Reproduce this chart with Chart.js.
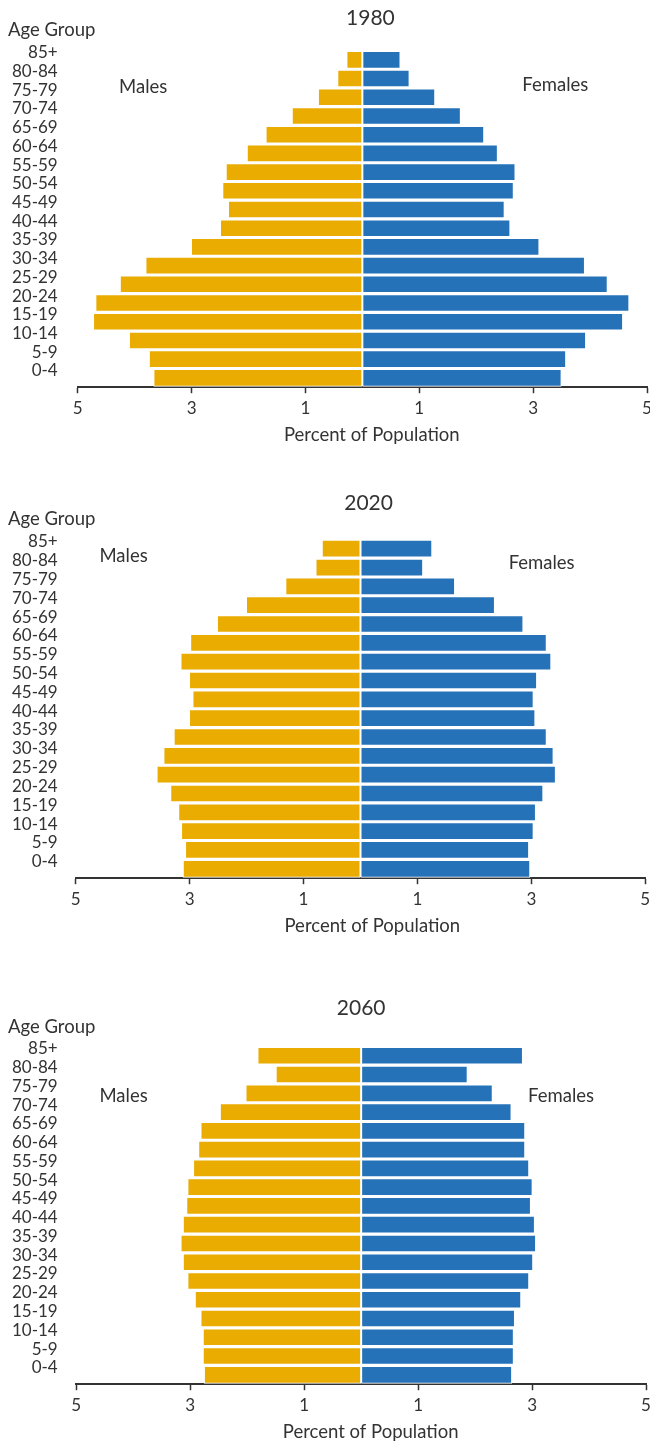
<!DOCTYPE html>
<html>
<head>
<meta charset="utf-8">
<title>Population pyramids 1980, 2020, 2060</title>
<script src="https://cdn.jsdelivr.net/npm/chart.js@4.4.1/dist/chart.umd.min.js"></script>
<style>
  html, body { margin: 0; padding: 0; background: #fff; overflow: hidden; }
  .box { position: absolute; left: 0; width: 650px; }
</style>
</head>
<body>
<div class="box" style="top:0px;height:448px"><canvas id="pyr1980"></canvas></div>
<div class="box" style="top:475px;height:464px"><canvas id="pyr2020"></canvas></div>
<div class="box" style="top:978px;height:467px"><canvas id="pyr2060"></canvas></div>

<script>
// age groups, top of the pyramid first
var ageGroups = ['85+', '80-84', '75-79', '70-74', '65-69', '60-64', '55-59', '50-54', '45-49',
                 '40-44', '35-39', '30-34', '25-29', '20-24', '15-19', '10-14', '5-9', '0-4'];
var xTicks = [-5, -3, -1, 1, 3, 5];

// percent of population
var males1980   = [0.28, 0.44, 0.78, 1.24, 1.70, 2.03, 2.40, 2.46, 2.36, 2.50, 3.01, 3.81, 4.26, 4.69, 4.73, 4.10, 3.75, 3.67];
var females1980 = [0.67, 0.83, 1.28, 1.73, 2.14, 2.38, 2.69, 2.66, 2.50, 2.60, 3.11, 3.91, 4.31, 4.69, 4.58, 3.93, 3.58, 3.50];
var males2020   = [0.68, 0.79, 1.32, 2.01, 2.52, 2.99, 3.16, 3.01, 2.95, 3.01, 3.28, 3.46, 3.58, 3.34, 3.20, 3.15, 3.08, 3.12];
var females2020 = [1.26, 1.10, 1.66, 2.36, 2.86, 3.27, 3.35, 3.10, 3.04, 3.07, 3.27, 3.39, 3.43, 3.21, 3.08, 3.04, 2.96, 2.98];
var males2060   = [1.82, 1.50, 2.03, 2.48, 2.82, 2.86, 2.95, 3.05, 3.07, 3.13, 3.17, 3.13, 3.05, 2.92, 2.82, 2.78, 2.78, 2.76];
var females2060 = [2.84, 1.87, 2.31, 2.64, 2.88, 2.88, 2.95, 3.01, 2.98, 3.05, 3.07, 3.02, 2.95, 2.81, 2.70, 2.68, 2.68, 2.65];

var maleColor = '#EAAC00';
var femaleColor = '#2672B8';
var textColor = '#333';
var wordSize = 18.5;

Chart.defaults.font.family = 'Lato, sans-serif';
Chart.defaults.font.size = 17;
Chart.defaults.color = textColor;

// "Males" / "Females" written inside the plot
function sideLabels(items) {
  return {
    id: 'sideLabels',
    afterDatasetsDraw: function (chart) {
      var ctx = chart.ctx;
      ctx.save();
      ctx.font = wordSize + 'px Lato, sans-serif';
      ctx.fillStyle = textColor;
      ctx.textAlign = 'center';
      ctx.textBaseline = 'middle';
      items.forEach(function (it) {
        ctx.fillText(it.text, chart.scales.x.getPixelForValue(it.x), chart.scales.y.getPixelForValue(it.y));
      });
      ctx.restore();
    }
  };
}

// leading spaces nudge a centred title a few px to the right
function nudge(text, n) {
  return ' '.repeat(n) + text;
}

function showPyramid(id, year, males, females, lay) {
  new Chart(document.getElementById(id), {
    type: 'bar',
    data: {
      labels: ageGroups,
      datasets: [{
        label: 'Males',
        data: males.map(function (v) { return -v; }),
        backgroundColor: maleColor
      }, {
        label: 'Females',
        data: females,
        backgroundColor: femaleColor
      }]
    },
    options: {
      indexAxis: 'y',
      responsive: true,
      maintainAspectRatio: false,
      animation: false,
      datasets: {
        bar: {
          barPercentage: 0.94,
          categoryPercentage: 1,
          borderColor: '#fff',
          borderWidth: 1,
          borderSkipped: false
        }
      },
      layout: {
        padding: { left: 8, right: 650 - lay.right, top: 0, bottom: 0 }
      },
      scales: {
        x: {
          stacked: true,
          min: -5,
          max: 5,
          afterBuildTicks: function (scale) {
            scale.ticks = xTicks.map(function (v) { return { value: v }; });
          },
          afterFit: function (scale) {
            scale.paddingLeft = 0;
            scale.paddingRight = 0;
          },
          ticks: {
            padding: 5,
            callback: function (value) { return Math.abs(value); }
          },
          grid: {
            drawOnChartArea: false,
            drawTicks: true,
            tickLength: 6,
            tickWidth: 1.5,
            color: '#333'
          },
          border: { display: true, color: '#333', width: 2 },
          title: {
            display: true,
            text: nudge('Percent of Population', lay.axisNudge),
            font: { size: wordSize },
            padding: { top: 0, bottom: 2.2 }
          }
        },
        y: {
          stacked: true,
          afterFit: function (scale) {
            scale.width = lay.left - 8;
            scale.paddingTop = 0;
            scale.paddingBottom = 0;
          },
          ticks: {
            padding: lay.left - 57.7,
            labelOffset: -7,
            autoSkip: false
          },
          grid: { display: false, drawTicks: false },
          border: { display: false }
        }
      },
      plugins: {
        legend: { display: false },
        tooltip: { enabled: false },
        title: {
          display: true,
          text: nudge(year, lay.titleNudge),
          fullSize: false,
          color: textColor,
          font: { size: 21, weight: 'normal', lineHeight: 12 / 21 },
          padding: { top: lay.titleTop, bottom: 0 }
        },
        subtitle: {
          display: true,
          text: 'Age Group',
          align: 'start',
          color: textColor,
          font: { size: wordSize, lineHeight: 10.2 / wordSize },
          padding: { top: lay.subTop, bottom: lay.subBottom }
        }
      }
    },
    plugins: [sideLabels([
      { text: 'Males', x: lay.males[0], y: lay.males[1] },
      { text: 'Females', x: lay.females[0], y: lay.females[1] }
    ])]
  });
}

showPyramid('pyr1980', '1980', males1980, females1980,
  { left: 77.7, right: 647, titleTop: 12, subTop: 1.4, subBottom: 14.9, titleNudge: 3, axisNudge: 4,
    males: [-3.85, 1.45], females: [3.39, 1.37] });
showPyramid('pyr2020', '2020', males2020, females2020,
  { left: 75.7, right: 645.3, titleTop: 22.5, subTop: 4.2, subBottom: 15.4, titleNudge: 3, axisNudge: 5,
    males: [-4.16, 0.40], females: [3.18, 0.77] });
showPyramid('pyr2060', '2060', males2060, females2060,
  { left: 76.3, right: 646, titleTop: 24.5, subTop: 7.6, subBottom: 14.1, titleNudge: 0, axisNudge: 4,
    males: [-4.17, 2.16], females: [3.51, 2.16] });
</script>
</body>
</html>
